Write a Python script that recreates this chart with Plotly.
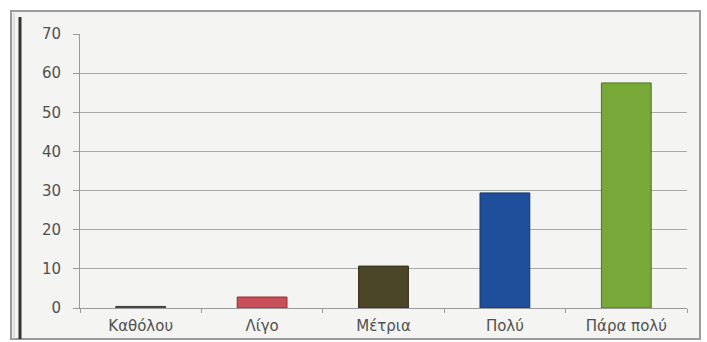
import plotly.graph_objects as go

# Survey answers and their shares (%)
categories = ["Καθόλου", "Λίγο", "Μέτρια", "Πολύ", "Πάρα πολύ"]
values = [0.4, 2.8, 10.7, 29.4, 57.5]
bar_colors = ["#5a5a5a", "#c9505a", "#4b4628", "#1f4f9a", "#78a838"]
edge_colors = ["#3a3a3a", "#8e2c35", "#2e2a16", "#15366b", "#4f7322"]
y_ticks = [0, 10, 20, 30, 40, 50, 60, 70]

W, H = 707, 342
L, R, T, B = 80, 20, 34, 34
pw, ph = W - L - R, H - T - B


def px_x(px):
    return (px - L) / pw


def px_y(py):
    return (H - B - py) / ph


fig = go.Figure(
    go.Bar(
        x=categories,
        y=values,
        marker=dict(color=bar_colors, line=dict(color=edge_colors, width=1)),
        width=0.41,
    )
)

shapes = [
    # panel background and frame
    dict(type="rect", xref="paper", yref="paper", layer="below",
         x0=px_x(11), x1=px_x(700), y0=px_y(339), y1=px_y(11),
         fillcolor="#f4f4f2", line=dict(color="#9a9a9a", width=2)),
    dict(type="line", xref="paper", yref="paper",
         x0=px_x(14), x1=px_x(14), y0=px_y(339), y1=px_y(13),
         line=dict(color="#c8c8c8", width=1)),
    dict(type="line", xref="paper", yref="paper",
         x0=px_x(20), x1=px_x(20), y0=px_y(339), y1=px_y(17),
         line=dict(color="#333333", width=3)),
]

fig.update_layout(
    width=W, height=H,
    margin=dict(l=L, r=R, t=T, b=B),
    paper_bgcolor="white",
    plot_bgcolor="rgba(0,0,0,0)",
    showlegend=False,
    shapes=shapes,
    font=dict(family="DejaVu Sans", size=15, color="#505050"),
    xaxis=dict(
        automargin=False,
        showgrid=False, showline=True, linecolor="#9a9a9a", linewidth=1,
        ticks="outside", ticklen=4, tickcolor="#9a9a9a", tickson="boundaries",
        tickfont=dict(size=15, color="#505050"), ticklabelstandoff=4,
    ),
    yaxis=dict(
        automargin=False,
        range=[0, 70], tickvals=y_ticks, showgrid=True, gridcolor="#a8a8a8",
        gridwidth=1, showline=True, linecolor="#9a9a9a", linewidth=1,
        ticks="outside", ticklen=6, tickcolor="#9a9a9a",
        tickfont=dict(size=15, color="#505050"), ticklabelstandoff=9,
        zeroline=False,
    ),
)

fig.write_html("out.html")
